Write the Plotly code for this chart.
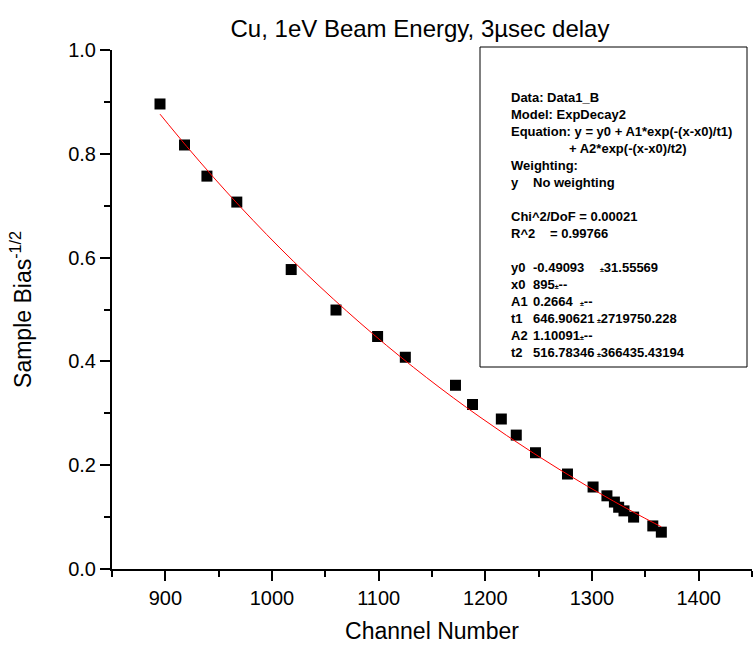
import plotly.graph_objects as go

# ---- data ----
channel = [895, 918, 939, 967, 1018, 1060, 1099, 1125, 1172, 1188, 1215, 1229,
           1247, 1277, 1301, 1314, 1321, 1325, 1330, 1339, 1357, 1365]
bias = [0.896, 0.817, 0.757, 0.707, 0.577, 0.499, 0.448, 0.408, 0.354, 0.317, 0.289, 0.258,
        0.224, 0.183, 0.158, 0.141, 0.129, 0.119, 0.112, 0.100, 0.083, 0.071]

# fitted ExpDecay2 curve
fit_x = [895, 920, 945, 970, 995, 1020, 1045, 1070, 1095, 1120, 1145, 1170,
         1195, 1220, 1245, 1270, 1295, 1320, 1345, 1365]
fit_y = [0.8764, 0.8143, 0.7550, 0.6985, 0.6445, 0.5930, 0.5439, 0.4970, 0.4522, 0.4095,
         0.3687, 0.3298, 0.2927, 0.2572, 0.2234, 0.1911, 0.1603, 0.1309, 0.1028, 0.0813]

x_ticks = [900, 1000, 1100, 1200, 1300, 1400]
y_ticks = [0.0, 0.2, 0.4, 0.6, 0.8, 1.0]

title = "Cu, 1eV Beam Energy, 3\u00b5sec delay"
x_title = "Channel Number"
y_title = "Sample Bias<sup>-1/2</sup>"

# text-box content: (text, x offset in px) segments per line
PM = "<span style='font-size:7px'>\u00b1</span>"
box_lines = [
    [("Data: Data1_B", 0)],
    [("Model: ExpDecay2", 0)],
    [("Equation: y = y0 + A1*exp(-(x-x0)/t1)", 0)],
    [("+ A2*exp(-(x-x0)/t2)", 58)],
    [("Weighting:", 0)],
    [("y", 0), ("No weighting", 22)],
    [],
    [("Chi^2/DoF = 0.00021", 0)],
    [("R^2", 0), ("= 0.99766", 39)],
    [],
    [("y0", 0), ("-0.49093", 22), (PM + "31.55569", 89)],
    [("x0", 0), ("895" + PM + "--", 22)],
    [("A1", 0), ("0.2664  " + PM + "--", 22)],
    [("t1", 0), ("646.90621", 22), (PM + "2719750.228", 86)],
    [("A2", 0), ("1.10091" + PM + "--", 22)],
    [("t2", 0), ("516.78346", 22), (PM + "366435.43194", 86)],
]

FONT = "Liberation Sans, Arial, sans-serif"

# plot area geometry in pixels (layout only)
W, H = 753, 649
L, R, T, B = 112, 1, 50, 80
pw, ph = W - L - R, H - T - B

def px_x(p):
    return (p - L) / pw

def px_y(p):
    return (H - B - p) / ph

fig = go.Figure()
fig.add_trace(go.Scatter(x=channel, y=bias, mode="markers",
                         marker=dict(symbol="square", size=11, color="black",
                                     line=dict(width=0)),
                         showlegend=False))
fig.add_trace(go.Scatter(x=fit_x, y=fit_y, mode="lines",
                         line=dict(color="red", width=1, shape="spline"),
                         showlegend=False))

axis_common = dict(showline=True, linecolor="black", linewidth=2,
                   showgrid=False, zeroline=False, ticklen=10, tickwidth=1.5,
                   tickcolor="black", tickfont=dict(family=FONT, size=20, color="black"))
mirror_common = dict(showticklabels=False, showline=True, linecolor="black", linewidth=2,
                     showgrid=False, zeroline=False, ticks="inside",
                     ticklen=5, tickwidth=1.5, tickcolor="black")

fig.update_layout(
    width=W, height=H,
    margin=dict(l=L, r=R, t=T, b=B),
    paper_bgcolor="white", plot_bgcolor="white",
    title=dict(text=title, x=420 / W, xanchor="center", y=1 - 29 / H, yanchor="middle",
               font=dict(family=FONT, size=24, color="black")),
    xaxis=dict(range=[850, 1450], tickvals=x_ticks, ticks="outside",
               minor=dict(dtick=50, ticks="outside", ticklen=6, tickwidth=1.5, tickcolor="black"),
               title=dict(text=x_title, font=dict(family=FONT, size=23, color="black"), standoff=15),
               **axis_common),
    yaxis=dict(range=[0, 1.0], tickvals=y_ticks, tickformat=".1f", ticks="outside",
               minor=dict(dtick=0.1, ticks="outside", ticklen=6, tickwidth=1.5, tickcolor="black"),
               title=dict(text=y_title, font=dict(family=FONT, size=23, color="black"), standoff=30),
               **axis_common),
    xaxis2=dict(range=[850, 1450], overlaying="x", side="top", anchor="y", tickvals=x_ticks,
                minor=dict(dtick=50, ticks="inside", ticklen=3, tickwidth=1.5, tickcolor="black"),
                **mirror_common),
    yaxis2=dict(range=[0, 1.0], overlaying="y", side="right", anchor="x", tickvals=y_ticks,
                minor=dict(dtick=0.1, ticks="inside", ticklen=3, tickwidth=1.5, tickcolor="black"),
                **mirror_common),
)

# text box frame
fig.add_shape(type="rect", xref="paper", yref="paper",
              x0=px_x(480), x1=px_x(747), y0=px_y(367), y1=px_y(47),
              line=dict(color="black", width=1), fillcolor="white", layer="above")

top_px, step = 97, 17.05
for i, segs in enumerate(box_lines):
    yy = top_px + i * step
    for text, dx in segs:
        fig.add_annotation(x=px_x(509 + dx), y=px_y(yy), xref="paper", yref="paper",
                           text="<b>" + text + "</b>", showarrow=False,
                           xanchor="left", yanchor="middle",
                           font=dict(family=FONT, size=13, color="black"))

fig.write_html("out.html")
